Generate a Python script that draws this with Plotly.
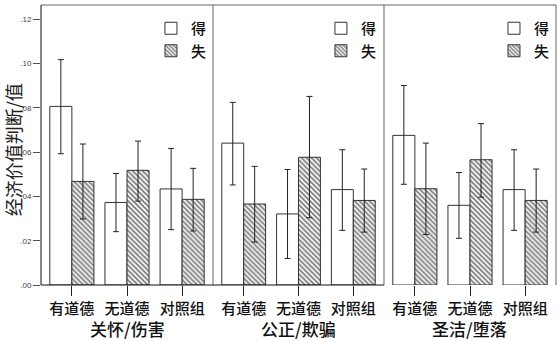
import plotly.graph_objects as go

categories = ["有道德", "无道德", "对照组"]
panels = ["关怀/伤害", "公正/欺骗", "圣洁/堕落"]
series_names = ["得", "失"]

# means and error-bar bounds
gain_mean = [[0.0807, 0.0373, 0.0434], [0.0641, 0.0321, 0.0431], [0.0676, 0.0360, 0.0431]]
gain_upper = [[0.1018, 0.0504, 0.0617], [0.0825, 0.0522, 0.0611], [0.0901, 0.0508, 0.0611]]
gain_lower = [[0.0593, 0.0241, 0.0250], [0.0452, 0.0120, 0.0247], [0.0455, 0.0211, 0.0247]]
loss_mean = [[0.0468, 0.0518, 0.0387], [0.0366, 0.0577, 0.0382], [0.0435, 0.0566, 0.0382]]
loss_upper = [[0.0637, 0.0650, 0.0527], [0.0536, 0.0852, 0.0524], [0.0641, 0.0729, 0.0524]]
loss_lower = [[0.0298, 0.0379, 0.0244], [0.0194, 0.0304, 0.0239], [0.0228, 0.0397, 0.0239]]

y_tickvals = [0.0, 0.02, 0.04, 0.06, 0.08, 0.10, 0.12]
y_ticktext = [".00", ".02", ".04", ".06", ".08", ".10", ".12"]
y_title = "经济价值判断/值"

FONT = "Noto Sans CJK SC"
W, H = 559, 341
ML, MR, MT, MB = 41, 3, 5, 56
domains = [[0.0, 0.334], [0.334, 0.666], [0.666, 1.0]]
legend_x = [0.332, 0.662, 0.998]

fig = go.Figure()
for p in range(3):
    xa = "x" if p == 0 else f"x{p+1}"
    ya = "y" if p == 0 else f"y{p+1}"
    lg = "legend" if p == 0 else f"legend{p+1}"
    g_plus = [u - m for u, m in zip(gain_upper[p], gain_mean[p])]
    g_minus = [m - l for m, l in zip(gain_mean[p], gain_lower[p])]
    l_plus = [u - m for u, m in zip(loss_upper[p], loss_mean[p])]
    l_minus = [m - l for m, l in zip(loss_mean[p], loss_lower[p])]
    fig.add_trace(go.Bar(
        x=categories, y=gain_mean[p], name=series_names[0], xaxis=xa, yaxis=ya, legend=lg,
        marker=dict(color="white", line=dict(color="#333333", width=1)),
        error_y=dict(type="data", symmetric=False, array=g_plus, arrayminus=g_minus,
                     color="#222222", thickness=1, width=3),
    ))
    fig.add_trace(go.Bar(
        x=categories, y=loss_mean[p], name=series_names[1], xaxis=xa, yaxis=ya, legend=lg,
        marker=dict(color="white", line=dict(color="#333333", width=1),
                    pattern=dict(shape="\\", fgcolor="#000000", bgcolor="white", size=3.5, solidity=0.55)),
        error_y=dict(type="data", symmetric=False, array=l_plus, arrayminus=l_minus,
                     color="#222222", thickness=1, width=3),
    ))

layout = dict(
    width=W, height=H,
    margin=dict(l=ML, r=MR, t=MT, b=MB),
    paper_bgcolor="white", plot_bgcolor="white",
    barmode="group", bargap=0.2, bargroupgap=0.0,
    font=dict(family=FONT, color="#111111"),
)
for p in range(3):
    xk = "xaxis" if p == 0 else f"xaxis{p+1}"
    yk = "yaxis" if p == 0 else f"yaxis{p+1}"
    layout[xk] = dict(
        domain=domains[p], anchor="y" if p == 0 else f"y{p+1}",
        range=[-0.56, 2.56], showgrid=False, zeroline=False, showline=False,
        ticks="outside", ticklen=10, tickwidth=1, tickcolor="#222222",
        tickfont=dict(family=FONT, size=15, color="#111111", weight=500),
    )
    layout[yk] = dict(
        domain=[0, 1], anchor="x" if p == 0 else f"x{p+1}",
        range=[0, 0.1265], showgrid=False, zeroline=False, showline=False,
        tickvals=y_tickvals, ticktext=y_ticktext,
        showticklabels=(p == 0), ticks="outside" if p == 0 else "",
        ticklen=7, tickwidth=1, tickcolor="#555555",
        tickfont=dict(family="Liberation Sans", size=8, color="#444444"),
    )
    lk = "legend" if p == 0 else f"legend{p+1}"
    layout[lk] = dict(
        x=legend_x[p], xanchor="right", y=0.975, yanchor="top",
        bgcolor="rgba(0,0,0,0)", borderwidth=0, traceorder="normal",
        font=dict(family=FONT, size=15, color="#111111", weight=500),
        itemwidth=30, tracegroupgap=0,
    )
fig.update_layout(**layout)

# panel frames
shapes = []
gray = "#666666"
for p in range(3):
    x0, x1 = domains[p]
    shapes.append(dict(type="line", xref="paper", yref="paper", x0=x0, x1=x1, y0=1, y1=1,
                       line=dict(color=gray, width=1)))
    shapes.append(dict(type="line", xref="paper", yref="paper", x0=x1, x1=x1, y0=0, y1=1,
                       line=dict(color=gray, width=1)))
    if p < 2:
        shapes.append(dict(type="line", xref="paper", yref="paper", x0=x0, x1=x1, y0=0, y1=0,
                           line=dict(color="#111111", width=1)))
shapes.append(dict(type="line", xref="paper", yref="paper", x0=0, x1=0, y0=0, y1=1,
                   line=dict(color="#111111", width=1)))
fig.update_layout(shapes=shapes)

annotations = []
for p in range(3):
    annotations.append(dict(
        text=panels[p], xref="paper", yref="paper",
        x=(domains[p][0] + domains[p][1]) / 2, y=-0.157, xanchor="center", yanchor="middle",
        showarrow=False, font=dict(family=FONT, size=17, color="#111111", weight=500),
    ))
annotations.append(dict(
    text=y_title, xref="paper", yref="paper", x=-0.054, y=0.482,
    xanchor="center", yanchor="middle", textangle=-90, showarrow=False,
    font=dict(family=FONT, size=18, color="#222222"),
))
fig.update_layout(annotations=annotations)

fig.write_html("out.html")
